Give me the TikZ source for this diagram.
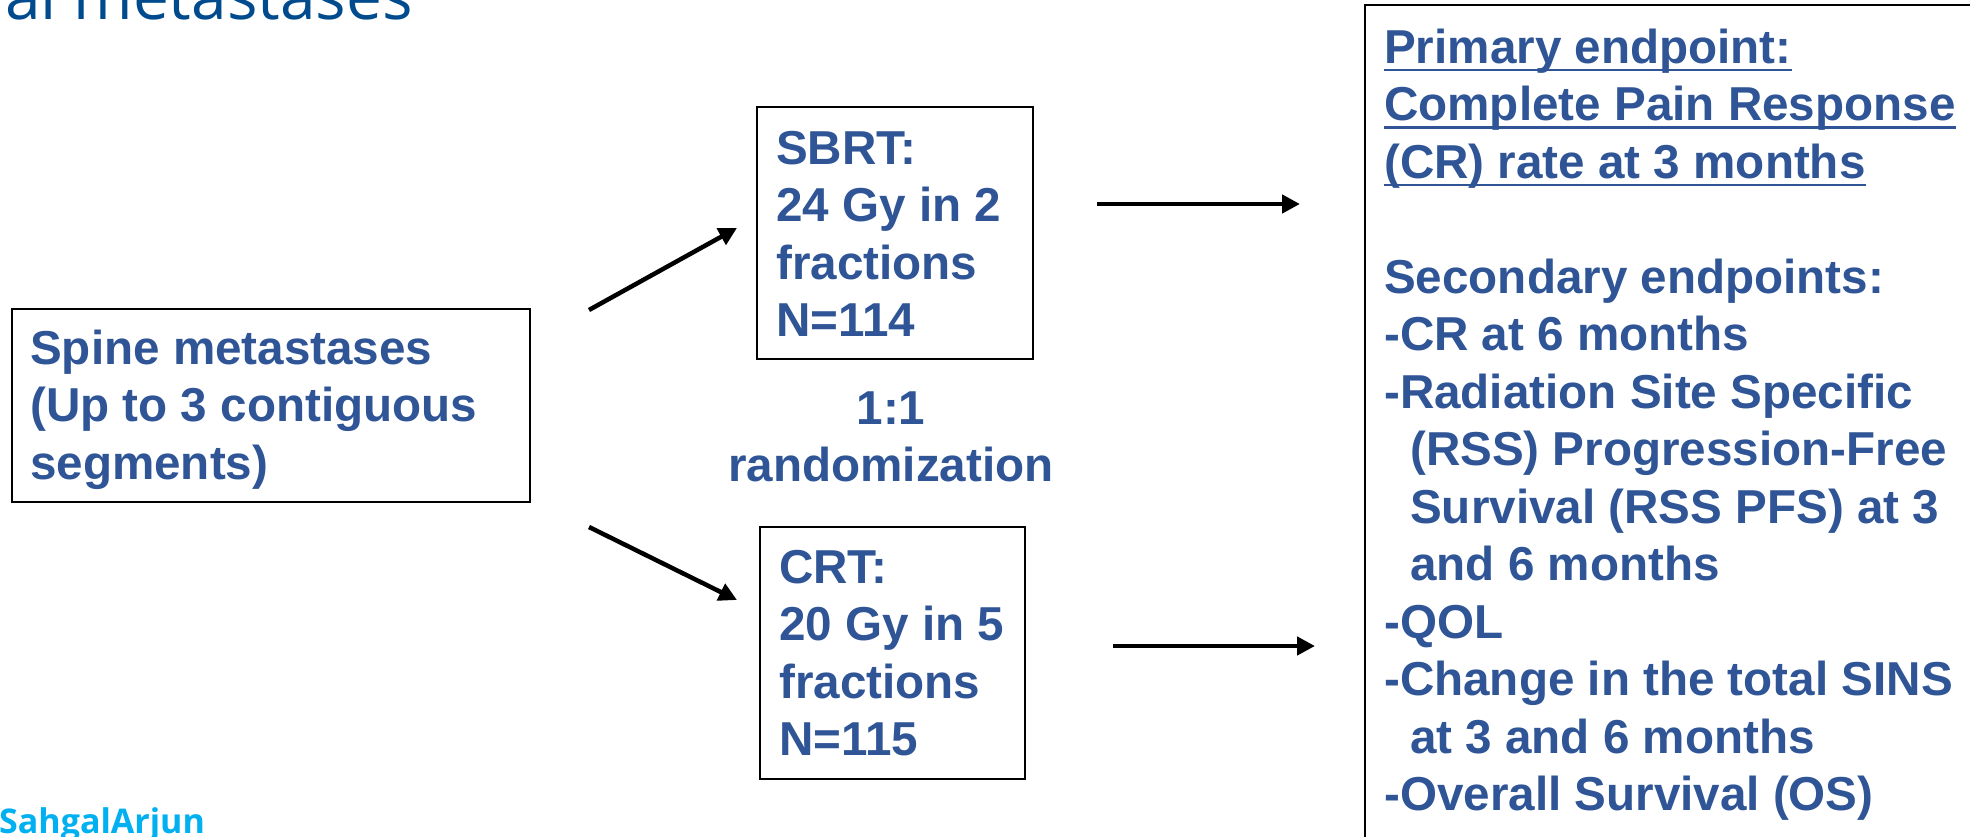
\documentclass[tikz,border=0pt]{standalone}
\usepackage{fontspec}
\setmainfont{Liberation Sans}
\newfontfamily\titlefont{Open Sans}
\usetikzlibrary{arrows.meta}
\definecolor{txtblue}{RGB}{47,85,151}
\definecolor{ttlblue}{RGB}{0,75,141}
\definecolor{twcyan}{RGB}{0,176,240}
\newcommand\myul[1]{\leavevmode\setbox0=\hbox{#1}\rlap{\vrule width \wd0 height -5.5pt depth 8pt}\box0}
\newcommand\ind{\hspace*{26pt}}
\begin{document}
\begin{tikzpicture}[x=1pt,y=-1pt,
  boxstyle/.style={draw=black, line width=2pt, inner sep=0pt, rectangle},
  bodytext/.style={text=txtblue, font=\bfseries\fontsize{47.6}{57.5}\selectfont, align=left, inner sep=0pt, anchor=base west},
  arr/.style={line width=4.5pt, -{Triangle[length=18pt,width=18pt]}}]
\useasboundingbox (0,0) rectangle (1970,837);
\clip (0,0) rectangle (1970,837);
\fill[white] (0,0) rectangle (1970,837);

% title fragment and handle
\node[anchor=base west, inner sep=0pt, text=ttlblue, font=\titlefont\fontsize{64}{70}\selectfont] (title) at (5,20) {al metastases};
\node[anchor=base west, inner sep=0pt, text=twcyan, font=\titlefont\bfseries\fontsize{34}{40}\selectfont] (handle) at (-1,833) {SahgalArjun};

% boxes
\node[boxstyle, minimum width=518pt, minimum height=193pt] (spine) at (271,405.5) {};
\node[boxstyle, minimum width=276pt, minimum height=252pt] (sbrt) at (895,233) {};
\node[boxstyle, minimum width=265pt, minimum height=252pt] (crt) at (892.5,653) {};
\node[boxstyle, minimum width=625pt, minimum height=855pt] (endp) at (1677.5,432.5) {};

% texts (anchor = baseline of the last line)
\node[bodytext] (spinetxt) at (30,479) {Spine metastases\\(Up to 3 contiguous\\segments)};
\node[bodytext] (sbrttxt) at (776,336.5) {SBRT:\\24 Gy in 2\\fractions\\N=114};
\node[bodytext] (crttxt) at (779,755.5) {CRT:\\20 Gy in 5\\fractions\\N=115};
\node[bodytext, align=center, anchor=base] (rand) at (891,481.5) {1:1\\randomization};
\node[bodytext] (endtxt) at (1384,810.5) {\myul{Primary endpoint:}\\
\myul{Complete Pain Response}\\
\myul{(CR) rate at 3 months}\\[57.5pt]
Secondary endpoints:\\
-CR at 6 months\\
-Radiation Site Specific\\
\ind(RSS) Progression-Free\\
\ind Survival (RSS PFS) at 3\\
\ind and 6 months\\
-QOL\\
-Change in the total SINS\\
\ind at 3 and 6 months\\
-Overall Survival (OS)};

% arrows
\coordinate (a1s) at (589,310);
\coordinate (a1e) at (737,228);
\coordinate (a2s) at (589,527);
\coordinate (a2e) at (737,600);
\coordinate (a3s) at (1097,204);
\coordinate (a3e) at (1300,204);
\coordinate (a4s) at (1113,646);
\coordinate (a4e) at (1315,646);
\draw[arr] (a1s) -- (a1e);
\draw[arr] (a2s) -- (a2e);
\draw[arr] (a3s) -- (a3e);
\draw[arr] (a4s) -- (a4e);
\end{tikzpicture}
\end{document}
